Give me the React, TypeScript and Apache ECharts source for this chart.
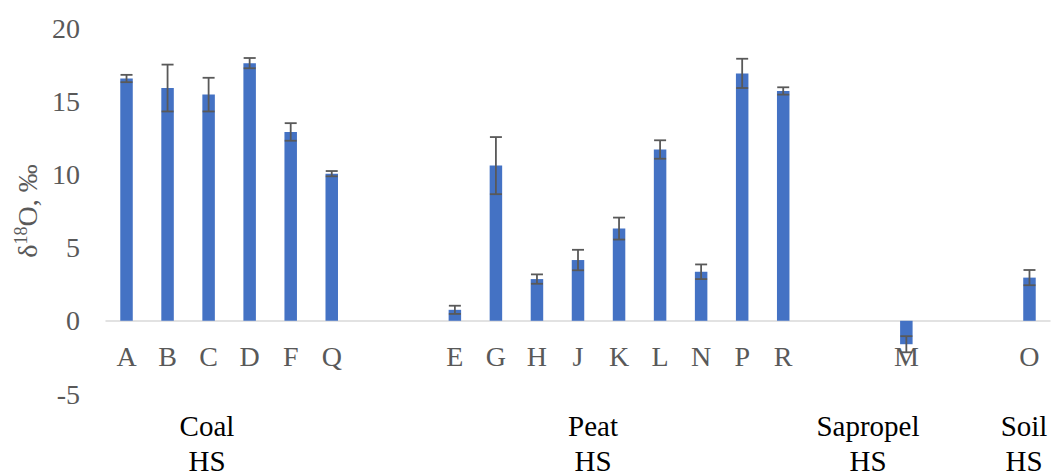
import React, { useEffect, useRef } from "react";
import * as echarts from "echarts";

// δ18O of humic substances (HS) by sample, mean ± error
const coalSamples = ["A", "B", "C", "D", "F", "Q"];
const coalValues = [16.55, 15.9, 15.45, 17.6, 12.9, 10.05];
const coalErrors = [0.25, 1.6, 1.15, 0.35, 0.6, 0.18];

const peatSamples = ["E", "G", "H", "J", "K", "L", "N", "P", "R"];
const peatValues = [0.75, 10.6, 2.85, 4.15, 6.3, 11.7, 3.35, 16.9, 15.7];
const peatErrors = [0.28, 1.95, 0.32, 0.7, 0.75, 0.63, 0.5, 1.0, 0.25];

const sapropelSamples = ["M"];
const sapropelValues = [-1.6];
const sapropelErrors = [0.55];

const soilSamples = ["O"];
const soilValues = [2.95];
const soilErrors = [0.52];

const groupNames = ["Coal\nHS", "Peat\nHS", "Sapropel\nHS", "Soil\nHS"];
const yTicks = { min: -5, max: 20, interval: 5 };

const GAP = 2; // empty slots between groups
const FONT = "'Liberation Serif', 'Times New Roman', serif";

const GRID_TOP = 28;
const GRID_BOTTOM = 81;
const CHART_H = 475;

type Group = { samples: string[]; values: number[]; errors: number[] };
const groups: Group[] = [
  { samples: coalSamples, values: coalValues, errors: coalErrors },
  { samples: peatSamples, values: peatValues, errors: peatErrors },
  { samples: sapropelSamples, values: sapropelValues, errors: sapropelErrors },
  { samples: soilSamples, values: soilValues, errors: soilErrors },
];

function buildAxis() {
  const cats: string[] = [];
  const vals: (number | null)[] = [];
  const errs: [number, number, number][] = [];
  let gapId = 0;
  groups.forEach((g, gi) => {
    if (gi > 0) {
      for (let k = 0; k < GAP; k++) {
        cats.push("_gap" + gapId++);
        vals.push(null);
      }
    }
    g.samples.forEach((s, i) => {
      const idx = cats.length;
      cats.push(s);
      vals.push(g.values[i]);
      errs.push([idx, g.values[i] - g.errors[i], g.values[i] + g.errors[i]]);
    });
  });
  return { cats, vals, errs };
}

export default function App() {
  const ref = useRef<HTMLDivElement>(null);

  useEffect(() => {
    if (!ref.current) return;
    const chart = echarts.init(ref.current, null, { renderer: "svg" });
    const { cats, vals, errs } = buildAxis();

    // lift the category axis from the grid bottom up to the zero line
    const plotH = CHART_H - GRID_TOP - GRID_BOTTOM;
    const zeroLift = (plotH * (0 - yTicks.min)) / (yTicks.max - yTicks.min);

    const groupX = [207, 593, 868, 1024];

    chart.setOption({
      animation: false,
      grid: { left: 106, right: 2, top: GRID_TOP, bottom: GRID_BOTTOM, containLabel: false },
      xAxis: {
        type: "category",
        data: cats,
        offset: -zeroLift,
        axisLine: { onZero: false, lineStyle: { color: "#d9d9d9", width: 1.5 } },
        axisTick: { show: false },
        splitLine: { show: false },
        axisLabel: {
          interval: 0,
          margin: 22,
          color: "#595959",
          fontFamily: FONT,
          fontSize: 28,
          formatter: (v: string) => (v.startsWith("_gap") ? "" : v),
        },
      },
      yAxis: {
        type: "value",
        min: yTicks.min,
        max: yTicks.max,
        interval: yTicks.interval,
        axisLine: { show: false },
        axisTick: { show: false },
        splitLine: { show: false },
        axisLabel: { margin: 26, color: "#595959", fontFamily: FONT, fontSize: 28 },
        name: "{d|δ}{s|18}{d|O, ‰}",
        nameLocation: "middle",
        nameRotate: 90,
        nameGap: 64,
        nameTextStyle: {
          color: "#595959",
          fontFamily: FONT,
          fontSize: 28,
          rich: {
            d: { color: "#595959", fontFamily: FONT, fontSize: 28, lineHeight: 30 },
            s: {
              color: "#595959",
              fontFamily: FONT,
              fontSize: 18,
              lineHeight: 30,
              verticalAlign: "top",
            },
          },
        },
      },
      series: [
        {
          type: "bar",
          data: vals,
          barWidth: 12.5,
          itemStyle: { color: "#4472c4" },
          z: 2,
        },
        {
          type: "custom",
          data: errs,
          z: 3,
          renderItem: (params: any, api: any) => {
            const idx = api.value(0);
            const lo = api.coord([idx, api.value(1)]);
            const hi = api.coord([idx, api.value(2)]);
            const half = 6;
            const style = { stroke: "#595959", lineWidth: 1.8 };
            return {
              type: "group",
              children: [
                { type: "line", shape: { x1: hi[0], y1: hi[1], x2: lo[0], y2: lo[1] }, style },
                { type: "line", shape: { x1: hi[0] - half, y1: hi[1], x2: hi[0] + half, y2: hi[1] }, style },
                { type: "line", shape: { x1: lo[0] - half, y1: lo[1], x2: lo[0] + half, y2: lo[1] }, style },
              ],
            };
          },
        },
      ],
      graphic: groupNames.map((name, i) => ({
        type: "text",
        x: groupX[i],
        y: 408,
        style: {
          text: name,
          fill: "#000000",
          font: `29px ${FONT}`,
          align: "center",
          verticalAlign: "top",
          lineHeight: 35,
        },
      })),
    });

    return () => chart.dispose();
  }, []);

  return (
    <div
      ref={ref}
      style={{ position: "fixed", left: 0, top: 0, width: 1052, height: 475, background: "#fff" }}
    />
  );
}
